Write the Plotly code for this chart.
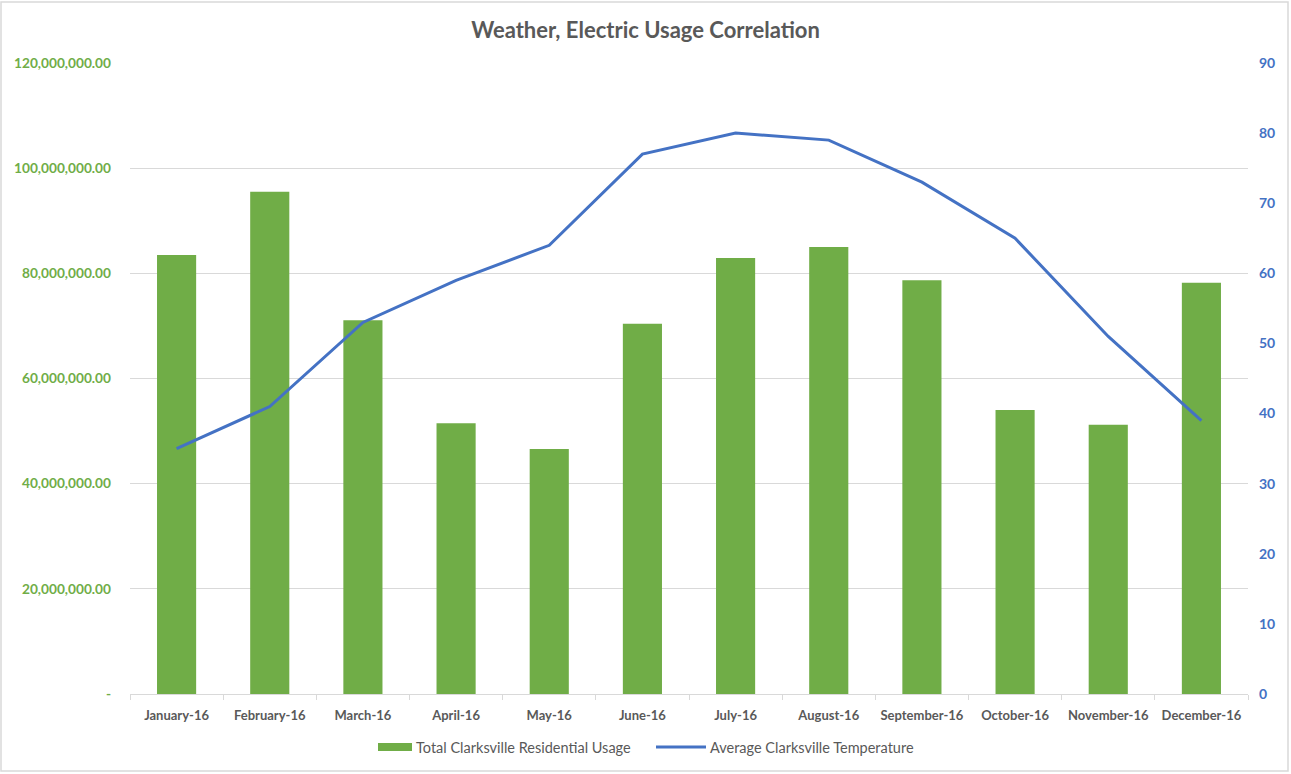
import plotly.graph_objects as go

months = ["January-16", "February-16", "March-16", "April-16", "May-16", "June-16",
          "July-16", "August-16", "September-16", "October-16", "November-16", "December-16"]
usage = [83.5e6, 95.5e6, 71.1e6, 51.5e6, 46.6e6, 70.4e6,
         82.9e6, 85.0e6, 78.7e6, 54.0e6, 51.2e6, 78.2e6]
temperature = [35, 41, 53, 59, 64, 77, 80, 79, 73, 65, 51, 39]

left_ticks = [0, 20e6, 40e6, 60e6, 80e6, 100e6, 120e6]
left_labels = ["-"] + [f"{v:,.2f}" for v in left_ticks[1:]]
right_ticks = list(range(0, 91, 10))

bar_name = "Total Clarksville Residential Usage"
line_name = "Average Clarksville Temperature"

GREEN = "#70AD47"
BLUE = "#4472C4"
GRAY = "#595959"
FONT = "Lato, Open Sans, sans-serif"

fig = go.Figure()
fig.add_trace(go.Bar(x=months, y=usage, name=bar_name,
                     marker=dict(color=GREEN, line=dict(width=0)), yaxis="y"))
fig.add_trace(go.Scatter(x=months, y=temperature, name=line_name,
                         mode="lines", line=dict(color=BLUE, width=3), yaxis="y2"))

W, H = 1291, 774
L, R, T, B = 130, 43, 63, 80
pw, ph = W - L - R, H - T - B

def px_x(p):
    return (p - L) / pw

def px_y(p):
    return (H - B - p) / ph

legend_y = 747
shapes = [
    dict(type="rect", xref="paper", yref="paper",
         x0=px_x(1), x1=px_x(1288), y0=px_y(771), y1=px_y(2),
         line=dict(color="#D9D9D9", width=1.5), fillcolor="rgba(0,0,0,0)", layer="below"),
    dict(type="rect", xref="paper", yref="paper",
         x0=px_x(378), x1=px_x(412), y0=px_y(legend_y + 4), y1=px_y(legend_y - 4),
         line=dict(width=0), fillcolor=GREEN),
    dict(type="line", xref="paper", yref="paper",
         x0=px_x(656), x1=px_x(706), y0=px_y(legend_y), y1=px_y(legend_y),
         line=dict(color=BLUE, width=3)),
]
annotations = [
    dict(text=bar_name, xref="paper", yref="paper", x=px_x(414), y=px_y(legend_y),
         xanchor="left", yanchor="middle", showarrow=False,
         font=dict(size=14.5, color=GRAY, family=FONT)),
    dict(text=line_name, xref="paper", yref="paper", x=px_x(708), y=px_y(legend_y),
         xanchor="left", yanchor="middle", showarrow=False,
         font=dict(size=14.5, color=GRAY, family=FONT)),
]

fig.update_layout(
    width=W, height=H,
    margin=dict(l=L, r=R, t=T, b=B),
    paper_bgcolor="white", plot_bgcolor="white",
    font=dict(family=FONT, color=GRAY),
    title=dict(text="Weather, Electric Usage Correlation", x=0.5, xanchor="center",
               y=1 - 30 / H, yanchor="middle",
               font=dict(size=22, color=GRAY, family=FONT, weight="bold")),
    bargap=0.58,
    showlegend=False,
    xaxis=dict(showgrid=False, showline=True, linecolor="#D9D9D9", linewidth=1,
               ticks="outside", tickson="boundaries", ticklen=5, tickcolor="#D9D9D9",
               tickangle=0, ticklabelstandoff=9,
               tickfont=dict(size=13, color=GRAY, family=FONT, weight="bold"),
               fixedrange=True),
    yaxis=dict(range=[0, 120e6], tickvals=left_ticks, ticktext=left_labels,
               showgrid=True, gridcolor="#D9D9D9", gridwidth=1, zeroline=False,
               showline=False, ticklabelstandoff=18,
               tickfont=dict(size=13.7, color=GREEN, family=FONT, weight="bold")),
    yaxis2=dict(range=[0, 90], tickvals=right_ticks, overlaying="y", side="right",
                showgrid=False, zeroline=False, showline=False, ticklabelstandoff=10,
                tickfont=dict(size=14, color=BLUE, family=FONT, weight="bold")),
    shapes=shapes,
    annotations=annotations,
)

fig.write_html("out.html", config={"displayModeBar": False},
               post_script="document.body.style.margin='0';document.body.style.overflow='hidden';")
